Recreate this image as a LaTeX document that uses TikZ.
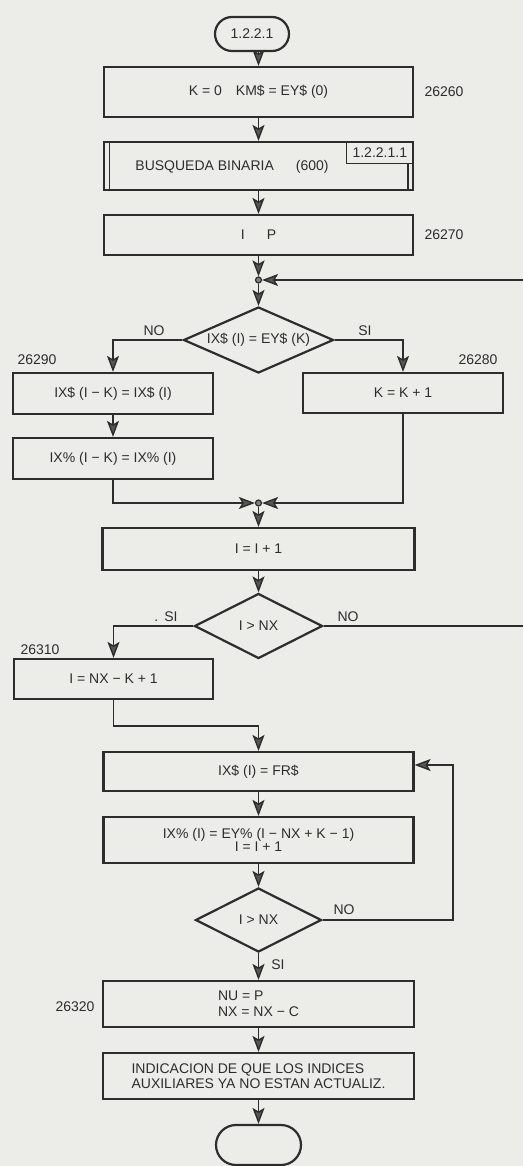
\documentclass[tikz,border=0pt]{standalone}
\usepackage{fontspec}
\setmainfont{Liberation Sans}
\usetikzlibrary{arrows.meta,shapes.geometric,calc}
\definecolor{paper}{RGB}{236,236,233}
\definecolor{ink}{RGB}{45,45,45}
\begin{document}
\begin{tikzpicture}[x=1pt,y=-1pt,
  font=\fontsize{14}{15}\selectfont,
  box/.style={draw=ink,line width=2.2pt,rectangle,inner sep=0pt,text=ink},
  dec/.style={draw=ink,line width=2.2pt,diamond,inner sep=0pt,text=ink},
  term/.style={draw=ink,line width=2.2pt,rectangle,rounded corners=#1,inner sep=0pt,text=ink},
  flow/.style={draw=ink,line width=1.4pt,-{Stealth[length=16pt,width=12pt,inset=3.5pt,fill=ink!80]}},
  plain/.style={draw=ink,line width=1.4pt},
  lbl/.style={text=ink,inner sep=0pt},
  jdot/.style={circle,draw=ink,fill=ink!60,line width=1.2pt,minimum size=6pt,inner sep=0pt}
]
\useasboundingbox (0,0) rectangle (523,1166);
\fill[paper] (0,0) rectangle (523,1166);

% main column
\node[term=17pt, minimum width=74pt, minimum height=34pt] (start) at (252,34) {1.2.2.1};
\node[box, minimum width=309pt, minimum height=50pt] (b1) at (258.5,92) {K = 0\hspace{14pt}KM\$ = EY\$ (0)};
\node[box, minimum width=309pt, minimum height=48pt] (b2) at (258.5,166) {};
\node[lbl] (b2t) at (232,167) {BUSQUEDA BINARIA\hspace{22pt}(600)};
\node[draw=ink, line width=1.6pt, minimum width=67pt, minimum height=22pt, inner sep=0pt, anchor=north east, text=ink] (b2n) at (b2.north east) {1.2.2.1.1};
\draw[ink, line width=1.6pt] ($(b2.north west)+(6.5,0)$) -- ($(b2.south west)+(6.5,0)$);
\draw[ink, line width=1.6pt] ($(b2n.south east)+(-6,0)$) -- ($(b2.south east)+(-6,0)$);
\node[box, minimum width=309pt, minimum height=40pt] (b3) at (258.5,235) {I\hspace{22pt}P};
\node[jdot] (j1) at (258.5,280) {};
\coordinate (eR1) at (523,280);
\node[dec, minimum width=150pt, minimum height=66pt, aspect=2.3] (d1) at (258.5,340) {IX\$ (I) = EY\$ (K)};
\node[box, minimum width=200pt, minimum height=41pt] (bl1) at (113,393.5) {IX\$ (I − K) = IX\$ (I)};
\node[box, minimum width=200pt, minimum height=41pt] (bl2) at (113,458.5) {IX\% (I − K) = IX\% (I)};
\node[box, minimum width=200pt, minimum height=40pt] (br) at (403,393) {K = K + 1};
\node[jdot] (j2) at (258.5,503) {};
\node[box, minimum width=312pt, minimum height=42pt] (b4) at (258.5,549) {I = I + 1};
\node[dec, minimum width=128pt, minimum height=65pt, aspect=2] (d2) at (258.5,626) {I > NX};
\coordinate (eR2) at (523,626);
\node[box, minimum width=199pt, minimum height=40pt] (bl3) at (113.5,679) {I = NX − K + 1};
\node[box, minimum width=310pt, minimum height=39pt] (b5) at (258.5,771.5) {IX\$ (I) = FR\$};
\node[box, minimum width=310pt, minimum height=46pt, align=center, font=\fontsize{14}{13.5}\selectfont] (b6) at (258.5,840) {IX\% (I) = EY\% (I − NX + K − 1)\\I = I + 1};
\node[dec, minimum width=126pt, minimum height=64pt, aspect=2] (d3) at (258.5,920) {I > NX};
\coordinate (rl) at (453,765);
\node[box, minimum width=311pt, minimum height=46pt, align=left, font=\fontsize{14}{16}\selectfont] (b7) at (258.5,1004) {NU = P\\NX = NX − C};
\node[box, minimum width=311pt, minimum height=46pt, align=left, font=\fontsize{14}{14.5}\selectfont] (b8) at (258.5,1076) {INDICACION DE QUE LOS INDICES\\AUXILIARES YA NO ESTAN ACTUALIZ.};
\node[term=20pt, minimum width=85pt, minimum height=40pt] (end) at (258.5,1145) {};

% connectors
\draw[flow] (b1.north |- start.south) -- (b1.north);
\draw[flow] (b1.south) -- (b2.north);
\draw[flow] (b2.south) -- (b3.north);
\draw[flow] (b3.south) -- (j1);
\draw[flow] (eR1) -- (j1);
\draw[flow] (j1) -- (d1.north);
\draw[flow] (d1.west) -| (bl1.north);
\draw[flow] (d1.east) -| (br.north);
\draw[flow] (bl1.south) -- (bl2.north);
\draw[flow] (bl2.south) |- (j2);
\draw[flow] (br.south) |- (j2);
\draw[flow] (j2) -- (b4.north);
\draw[flow] (b4.south) -- (d2.north);
\draw[flow] (d2.west) -| (bl3.north);
\draw[plain] (d2.east) -- (eR2);
\draw[flow] (bl3.south) -- ++(0,26) -| (b5.north);
\draw[flow] (b5.south) -- (b6.north);
\draw[flow] (b6.south) -- (d3.north);
\draw[flow] (d3.east) -| (rl) -- (rl -| b5.east);
\draw[flow] (d3.south) -- (b7.north);
\draw[flow] (b7.south) -- (b8.north);
\draw[flow] (b8.south) -- (end.north);

% labels
\node[lbl] (n1) at (444,92) {26260};
\node[lbl] (n2) at (444,235) {26270};
\node[lbl] (n3) at (37,360) {26290};
\node[lbl] (n4) at (478,360) {26280};
\node[lbl] (no1) at (154,331) {NO};
\node[lbl] (si1) at (365,331) {SI};
\node[lbl] (si2) at (166,617) {.\hspace{6pt}SI};
\node[lbl] (no2) at (348,617) {NO};
\node[lbl] (n5) at (40,650) {26310};
\node[lbl] (no3) at (344,910) {NO};
\node[lbl] (si3) at (278,965) {SI};
\node[lbl] (n6) at (75,1007) {26320};
\end{tikzpicture}
\end{document}
